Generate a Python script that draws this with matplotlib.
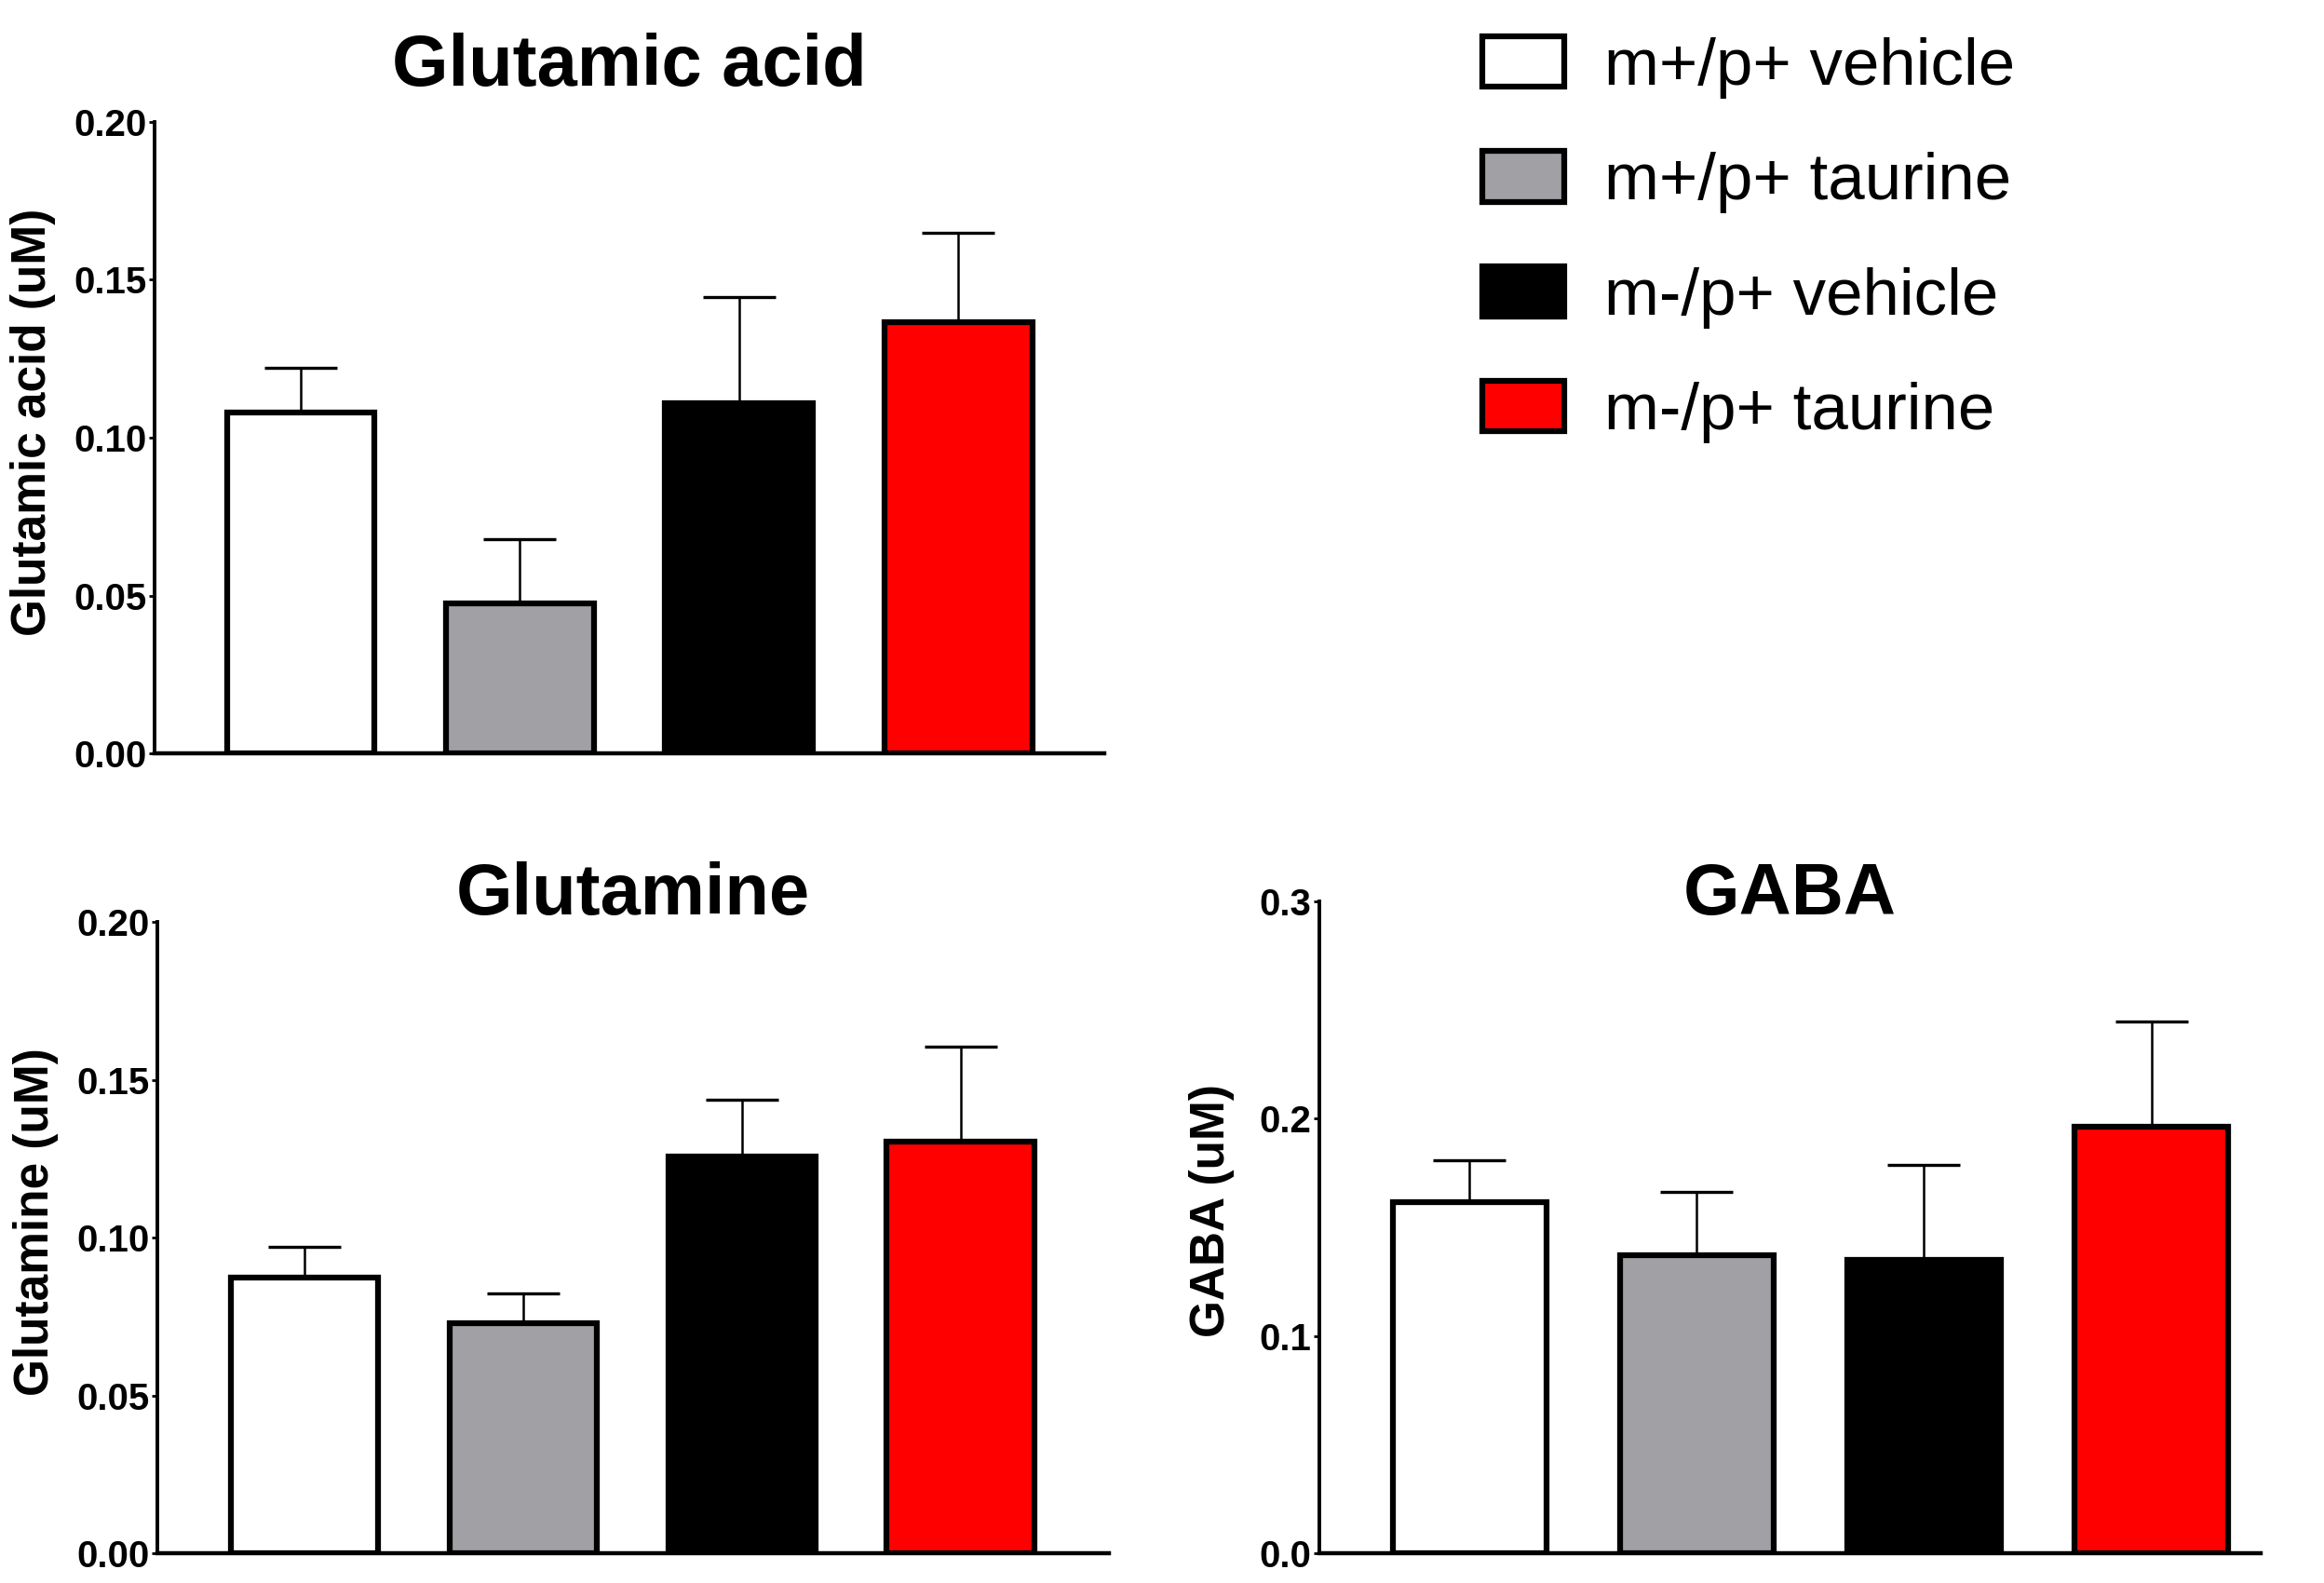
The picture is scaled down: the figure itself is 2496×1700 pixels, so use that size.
import matplotlib
matplotlib.use("Agg")
from matplotlib import pyplot as plt
from matplotlib.patches import Patch

groups = ["m+/p+ vehicle", "m+/p+ taurine", "m-/p+ vehicle", "m-/p+ taurine"]
colors = ["#ffffff", "#a1a0a5", "#000000", "#ff0000"]

glu_mean = [0.108, 0.0474, 0.111, 0.1366]
glu_err = [0.014, 0.0206, 0.0336, 0.0284]

gln_mean = [0.0873, 0.0728, 0.1258, 0.1305]
gln_err = [0.0099, 0.0094, 0.0179, 0.0301]

gaba_mean = [0.1616, 0.137, 0.135, 0.1964]
gaba_err = [0.0191, 0.0294, 0.0436, 0.0484]

plt.rcParams['font.family'] = ['Liberation Sans', 'DejaVu Sans']
tickfont = ['Liberation Sans Narrow', 'Liberation Sans', 'DejaVu Sans']

fig = plt.figure(figsize=(24.96, 17), dpi=100)

panels = [
    # rect, title, ylabel, means, errs, ylim, ticks, fmt, xlim, title_y, label_x
    ([0.0665, 0.524, 0.4087, 0.399], "Glutamic acid", "Glutamic acid (uM)",
     glu_mean, glu_err, 0.20, [0, 0.05, 0.10, 0.15, 0.20], "%.2f", (-0.667, 3.667), 1.0575, -0.104),
    ([0.0676, 0.0188, 0.4095, 0.3988], "Glutamine", "Glutamine (uM)",
     gln_mean, gln_err, 0.20, [0, 0.05, 0.10, 0.15, 0.20], "%.2f", (-0.675, 3.678), 1.012, -0.103),
    ([0.5677, 0.0188, 0.405, 0.4118], "GABA", "GABA (uM)",
     gaba_mean, gaba_err, 0.30, [0, 0.1, 0.2, 0.3], "%.1f", (-0.66, 3.48), 0.98, -0.09),
]

for rect, title, ylab, m, e, ytop, ticks, fmt, xl, ty, lx in panels:
    ax = fig.add_axes(rect)
    x = range(len(m))
    ax.errorbar(x, m, yerr=[[0] * len(e), e], fmt="none", ecolor="black",
                elinewidth=1.8, capsize=28, capthick=2.4, zorder=1)
    ax.bar(x, m, width=0.675, color=colors, edgecolor="black", linewidth=4.5, zorder=2)
    ax.set_xlim(*xl)
    ax.set_ylim(0, ytop)
    ax.set_yticks(ticks)
    ax.set_yticklabels([fmt % t for t in ticks], family=tickfont, fontsize=29, fontweight="bold")
    ax.set_xticks([])
    for s in ["top", "right"]:
        ax.spines[s].set_visible(False)
    ax.spines["left"].set_linewidth(2.8)
    ax.spines["bottom"].set_linewidth(3.2)
    ax.tick_params(axis="y", length=4, width=2, pad=2)
    ax.set_ylabel(ylab, fontsize=37, fontweight="bold")
    ax.yaxis.set_label_coords(lx, 0.525)
    ax.text(0.5, ty, title, transform=ax.transAxes, ha="center", va="baseline",
            fontsize=56, fontweight="bold")

handles = [Patch(facecolor=c, edgecolor="black", linewidth=4.5) for c in colors]
fig.legend(handles, groups, loc="upper left", bbox_to_anchor=(0.638, 0.977),
           frameon=False, fontsize=51, borderpad=0, handlelength=1.24,
           handleheight=0.8, handletextpad=0.6, labelspacing=0.8, borderaxespad=0)

fig.savefig("out.png", dpi=100)
